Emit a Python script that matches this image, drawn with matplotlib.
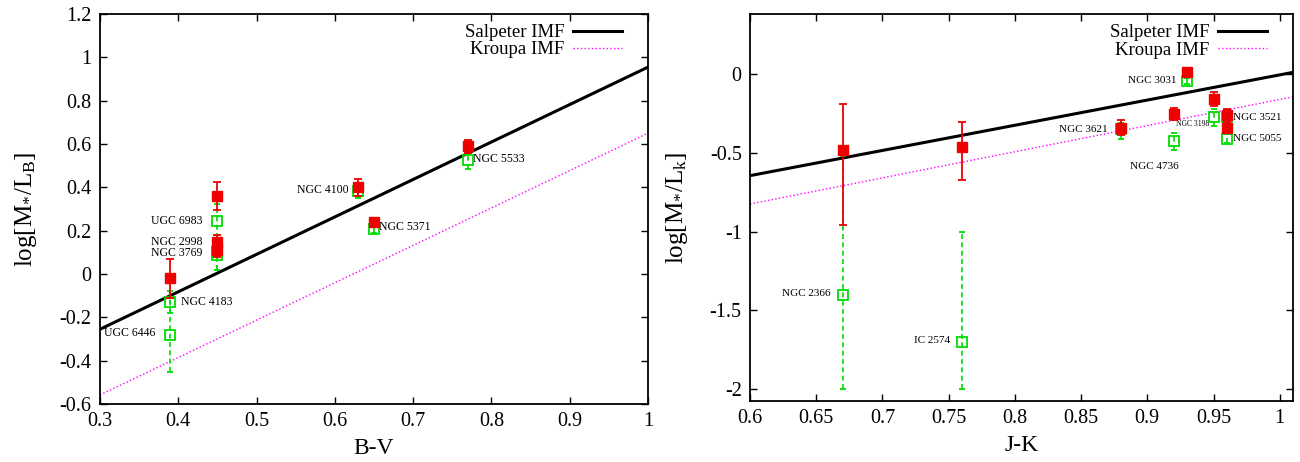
import numpy as np
import matplotlib
matplotlib.use("Agg")
import matplotlib.pyplot as plt

plt.rcParams['font.family'] = ['Liberation Serif', 'DejaVu Serif']
plt.rcParams['mathtext.fontset'] = 'custom'
plt.rcParams['mathtext.rm'] = 'Liberation Serif'
plt.rcParams['mathtext.it'] = 'Liberation Serif:italic'

# ---- left panel: B-V ----
bv_red = [0.39, 0.45, 0.45, 0.45, 0.63, 0.65, 0.77]
ml_red = [-0.02, 0.36, 0.15, 0.11, 0.40, 0.24, 0.59]
ml_red_err = [0.09, 0.065, 0.03, 0.03, 0.04, 0.01, 0.03]

bv_green = [0.39, 0.39, 0.45, 0.45, 0.45, 0.63, 0.65, 0.77]
ml_green = [-0.13, -0.28, 0.245, 0.10, 0.09, 0.385, 0.21, 0.525]
ml_green_err = [0.05, 0.17, 0.08, 0.08, 0.07, 0.035, 0.02, 0.04]

bv_line = [0.3, 1.0]
salp_bv = [-0.255, 0.955]
kroupa_bv = [-0.558, 0.65]

left_labels = [("UGC 6983", 0.431, 0.245, 'right'), ("NGC 2998", 0.431, 0.149, 'right'),
               ("NGC 3769", 0.431, 0.098, 'right'), ("NGC 4183", 0.403, -0.128, 'left'),
               ("UGC 6446", 0.371, -0.274, 'right'), ("NGC 4100", 0.617, 0.39, 'right'),
               ("NGC 5371", 0.657, 0.215, 'left'), ("NGC 5533", 0.777, 0.53, 'left')]

# ---- right panel: J-K ----
jk_red = [0.67, 0.76, 0.88, 0.92, 0.93, 0.95, 0.96, 0.96]
mlk_red = [-0.48, -0.465, -0.34, -0.255, 0.01, -0.16, -0.26, -0.34]
mlk_red_up = [0.29, 0.16, 0.05, 0.04, 0.02, 0.045, 0.04, 0.03]
mlk_red_dn = [0.475, 0.21, 0.05, 0.04, 0.02, 0.045, 0.04, 0.03]

jk_green = [0.67, 0.76, 0.88, 0.92, 0.93, 0.95, 0.96, 0.96]
mlk_green = [-1.40, -1.70, -0.35, -0.425, -0.045, -0.27, -0.27, -0.41]
mlk_green_up = [0.88, 0.70, 0.04, 0.05, 0.02, 0.05, 0.04, 0.03]
mlk_green_dn = [0.60, 0.30, 0.06, 0.06, 0.02, 0.06, 0.04, 0.03]

jk_line = [0.6, 1.01]
salp_jk = [-0.645, 0.01]
kroupa_jk = [-0.825, -0.145]

right_labels = [("NGC 2366", 0.661, -1.39, 'right', 8), ("IC 2574", 0.751, -1.69, 'right', 8),
                ("NGC 3031", 0.922, -0.044, 'right', 8), ("NGC 3621", 0.870, -0.35, 'right', 8),
                ("NGC 3198", 0.922, -0.316, 'left', 5.5), ("NGC 4736", 0.905, -0.587, 'center', 8),
                ("NGC 3521", 0.965, -0.276, 'left', 8), ("NGC 5055", 0.965, -0.41, 'left', 8)]

red = '#ee0000'
green = '#00dd00'
magenta = '#ff00ff'


def draw_points(ax, xr, yr, er, xg, yg, eg):
    eb = ax.errorbar(xg, yg, yerr=eg, fmt='s', ms=7, mfc='none', mec=green, mew=1.3,
                     ecolor=green, elinewidth=1.2, capsize=2.5, capthick=1.2, zorder=3)
    eb[2][0].set_linestyle((0, (3, 2)))
    ax.errorbar(xr, yr, yerr=er, fmt='s', ms=6.5, color=red, ecolor=red,
                elinewidth=1.3, capsize=3, capthick=1.3, zorder=4)


def style(ax):
    ax.tick_params(direction='in', top=True, right=True, length=5, width=1, labelsize=14.5, pad=6)
    for s in ax.spines.values():
        s.set_linewidth(1.3)
    ax.legend(loc='upper right', bbox_to_anchor=(0.975, 1.005), frameon=False, markerfirst=False,
              fontsize=13.5, handlelength=2.6, borderaxespad=0.25, labelspacing=0.0,
              handletextpad=0.5)


fig = plt.figure(figsize=(13, 4.62), dpi=100)

ax1 = fig.add_axes([0.0769, 0.1255, 0.4216, 0.8442])
ax1.plot(bv_line, salp_bv, color='black', lw=2.2, label='Salpeter IMF', zorder=2)
ax1.plot(bv_line, kroupa_bv, color=magenta, lw=1, ls=':', label='Kroupa IMF', zorder=2)
draw_points(ax1, bv_red, ml_red, ml_red_err, bv_green, ml_green, ml_green_err)
for txt, x, y, ha in left_labels:
    ax1.text(x, y, txt, ha=ha, va='center', fontsize=8.5)
ax1.set_xlim(0.3, 1.0)
ax1.set_ylim(-0.6, 1.2)
ax1.set_xticks(np.arange(0.3, 1.01, 0.1))
ax1.set_xticklabels(['0.3', '0.4', '0.5', '0.6', '0.7', '0.8', '0.9', '1'])
ax1.set_yticks(np.arange(-0.6, 1.21, 0.2))
ax1.set_yticklabels(['-0.6', '-0.4', '-0.2', '0', '0.2', '0.4', '0.6', '0.8', '1', '1.2'])
ax1.set_xlabel('B-V', fontsize=17, labelpad=5)
ax1.set_ylabel(r'log[M$_{*}$/L$_{\rm B}$]', fontsize=18, labelpad=15)
style(ax1)

ax2 = fig.add_axes([0.5769, 0.132, 0.4177, 0.8377])
ax2.plot(jk_line, salp_jk, color='black', lw=2.2, label='Salpeter IMF', zorder=2)
ax2.plot(jk_line, kroupa_jk, color=magenta, lw=1, ls=':', label='Kroupa IMF', zorder=2)
draw_points(ax2, jk_red, mlk_red, [mlk_red_dn, mlk_red_up],
            jk_green, mlk_green, [mlk_green_dn, mlk_green_up])
for txt, x, y, ha, fs in right_labels:
    ax2.text(x, y, txt, ha=ha, va='center', fontsize=fs)
ax2.set_xlim(0.6, 1.01)
ax2.set_ylim(-2.074, 0.38)
ax2.set_xticks(np.arange(0.6, 1.001, 0.05))
ax2.set_xticklabels(['0.6', '0.65', '0.7', '0.75', '0.8', '0.85', '0.9', '0.95', '1'])
ax2.set_yticks([-2, -1.5, -1, -0.5, 0])
ax2.set_yticklabels(['-2', '-1.5', '-1', '-0.5', '0'])
ax2.set_xlabel('J-K', fontsize=17, labelpad=5)
ax2.set_ylabel(r'log[M$_{*}$/L$_{\rm k}$]', fontsize=18, labelpad=14)
style(ax2)

fig.savefig('out.png', dpi=100)
